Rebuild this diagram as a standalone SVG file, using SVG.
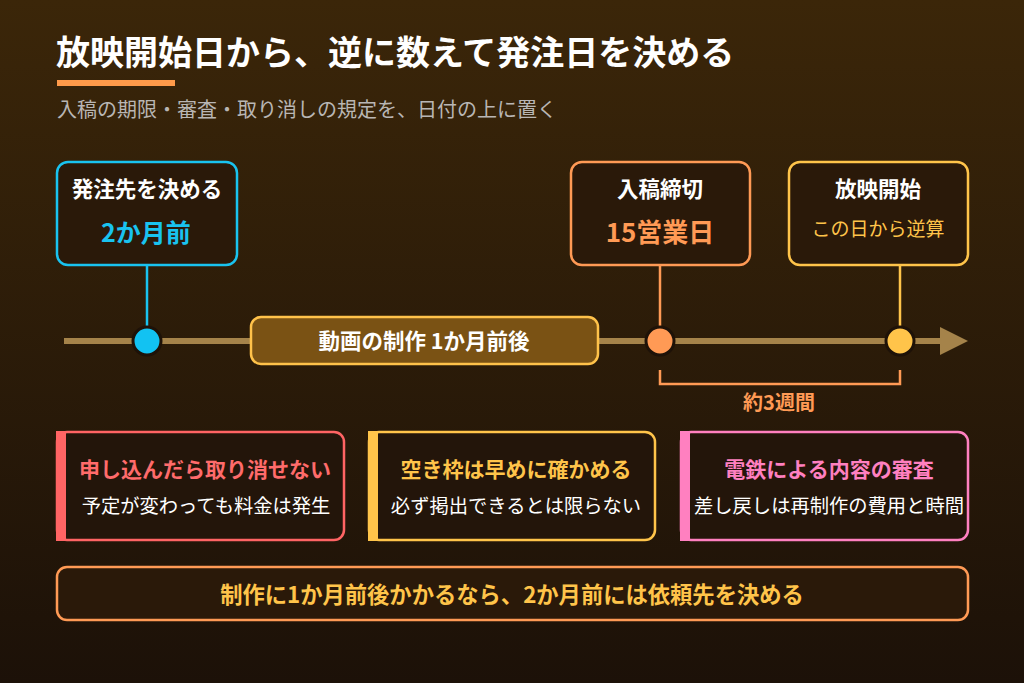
<svg xmlns="http://www.w3.org/2000/svg" width="1024" height="683" viewBox="0 0 1024 683">
<defs>
<linearGradient id="bg" x1="0" y1="0" x2="0" y2="1">
<stop offset="0" stop-color="#3b2609"/>
<stop offset="1" stop-color="#1c1108"/>
</linearGradient>
</defs>
<style>
text{font-family:"Noto Sans CJK JP","Noto Sans",sans-serif;}
.b{font-weight:700;}
.c{text-anchor:middle;}
.box{fill:#2a1909;stroke-width:2.5;}
.card{fill:#23150a;stroke-width:2.5;}
.wt{fill:#ffffff;}
</style>
<rect width="1024" height="683" fill="url(#bg)"/>
<g id="header">
<text x="56" y="65" class="b wt" font-size="34" font-weight="900">放映開始日から、逆に数えて発注日を決める</text>
<rect x="57" y="80" width="118" height="6" fill="#ff9a4a"/>
<text x="57" y="117" font-size="20" fill="#b9b6b4">入稿の期限・審査・取り消しの規定を、日付の上に置く</text>
</g>
<g id="connectors">
<line x1="64" y1="341" x2="945" y2="341" stroke="#a5834a" stroke-width="6"/>
<polygon points="940,327 968,341 940,355" fill="#a5834a"/>
<line x1="147" y1="265" x2="147" y2="327" stroke="#19c3f0" stroke-width="2.5"/>
<line x1="660" y1="265" x2="660" y2="327" stroke="#ff9a55" stroke-width="2.5"/>
<line x1="900" y1="265" x2="900" y2="327" stroke="#ffc44a" stroke-width="2.5"/>
<polyline points="660,370 660,384 900,384 900,370" fill="none" stroke="#ff9a55" stroke-width="2.5"/>
<text x="779" y="410" class="b c" font-size="20" fill="#ff9a55">約3週間</text>
</g>
<g id="dot1"><circle cx="147" cy="341" r="14" fill="#12c2f2" stroke="#1e1208" stroke-width="3"/></g>
<g id="dot2"><circle cx="660" cy="341" r="14" fill="#ff9a55" stroke="#1e1208" stroke-width="3"/></g>
<g id="dot3"><circle cx="900" cy="341" r="14" fill="#ffc44a" stroke="#1e1208" stroke-width="3"/></g>
<g id="node-order">
<rect x="57" y="162" width="180" height="103" rx="11" class="box" stroke="#19c3f0"/>
<text x="147" y="197" class="b c wt" font-size="21.5">発注先を決める</text>
<text x="146" y="242" class="b c" font-size="25" fill="#19c3f0">2か月前</text>
</g>
<g id="node-production">
<rect x="251" y="317" width="347" height="47" rx="10" fill="#7a5214" stroke="#ffc24a" stroke-width="2.5"/>
<text x="424" y="349" class="b c wt" font-size="21.5">動画の制作 1か月前後</text>
</g>
<g id="node-deadline">
<rect x="571" y="162" width="179" height="103" rx="11" class="box" stroke="#ff9a55"/>
<text x="660" y="197" class="b c wt" font-size="21.5">入稿締切</text>
<text x="660" y="242" class="b c" font-size="26" fill="#ff9a55">15営業日</text>
</g>
<g id="node-start">
<rect x="789" y="162" width="179" height="103" rx="11" class="box" stroke="#ffc44a"/>
<text x="878" y="197" class="b c wt" font-size="21.5">放映開始</text>
<text x="878" y="236" class="c" font-size="19" fill="#ffc44a">この日から逆算</text>
</g>
<g id="card-cancel">
<rect x="57" y="432" width="287" height="108" rx="10" class="card" stroke="#ff6464"/>
<rect x="56" y="431" width="10" height="110" fill="#ff6464"/>
<text x="205" y="477" class="b c" font-size="21" fill="#ff6b6b">申し込んだら取り消せない</text>
<text x="206" y="513" class="c wt" font-size="19.3">予定が変わっても料金は発生</text>
</g>
<g id="card-slot">
<rect x="369" y="432" width="286" height="108" rx="10" class="card" stroke="#ffc44a"/>
<rect x="368" y="431" width="10" height="110" fill="#ffc44a"/>
<text x="516" y="477" class="b c" font-size="21" fill="#ffc44a">空き枠は早めに確かめる</text>
<text x="516" y="513" class="c wt" font-size="19.3">必ず掲出できるとは限らない</text>
</g>
<g id="card-review">
<rect x="681" y="432" width="287" height="108" rx="10" class="card" stroke="#ff80c0"/>
<rect x="680" y="431" width="10" height="110" fill="#ff80c0"/>
<text x="829" y="477" class="b c" font-size="21" fill="#ff80c0">電鉄による内容の審査</text>
<text x="829" y="513" class="c wt" font-size="19.3">差し戻しは再制作の費用と時間</text>
</g>
<g id="summary">
<rect x="57" y="567" width="911" height="53" rx="10" fill="#2a1909" stroke="#ff9a55" stroke-width="2.5"/>
<text x="512" y="603" class="b c" font-size="22.3" fill="#ffc44a">制作に1か月前後かかるなら、2か月前には依頼先を決める</text>
</g>
</svg>
